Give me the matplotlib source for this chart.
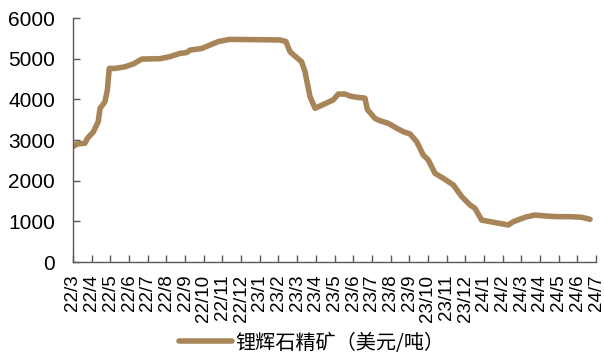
import matplotlib
matplotlib.use("Agg")
import matplotlib.pyplot as plt

months = ["22/3", "22/4", "22/5", "22/6", "22/7", "22/8", "22/9", "22/10", "22/11", "22/12",
          "23/1", "23/2", "23/3", "23/4", "23/5", "23/6", "23/7", "23/8", "23/9", "23/10",
          "23/11", "23/12", "24/1", "24/2", "24/3", "24/4", "24/5", "24/6", "24/7"]

# time position in months since 22/3
t = [0.0, 0.2, 0.64, 0.77, 1.09, 1.35, 1.45, 1.71, 1.84, 1.94, 2.25, 2.78, 3.23, 3.68,
     4.66, 5.19, 5.73, 6.09, 6.26, 6.89, 7.33, 7.78, 8.4, 11.08, 11.4, 11.62, 11.88,
     12.24, 12.42, 12.69, 12.96, 13.93, 14.2, 14.56, 14.83, 15.19, 15.63, 15.76, 16.17,
     16.43, 16.88, 17.33, 17.68, 18.04, 18.4, 18.75, 19.02, 19.38, 19.82, 20.36, 20.81,
     21.25, 21.52, 21.88, 23.3, 23.57, 24.2, 24.73, 25.36, 25.89, 26.61, 27.23, 27.68]
price = [2835, 2900, 2920, 3040, 3200, 3450, 3780, 3940, 4230, 4760, 4760, 4800, 4870, 4990,
         5000, 5050, 5130, 5150, 5210, 5250, 5335, 5420, 5475, 5460, 5420, 5170, 5065,
         4925, 4680, 4065, 3780, 3985, 4130, 4130, 4080, 4050, 4030, 3750, 3530,
         3475, 3410, 3290, 3205, 3150, 2960, 2630, 2510, 2180, 2060, 1895, 1610,
         1405, 1320, 1030, 910, 990, 1100, 1155, 1130, 1115, 1115, 1100, 1050]

series_name = "锂辉石精矿（美元/吨）"
yticks = [0, 1000, 2000, 3000, 4000, 5000, 6000]

plt.rcParams['font.family'] = ['Liberation Sans', 'Noto Sans CJK SC', 'DejaVu Sans']

fig = plt.figure(figsize=(6.04, 3.55), dpi=100)
ax = fig.add_axes([73/604, 1 - 262/355, (596-73)/604, (262-18)/355])

color = "#A88558"
ax.plot(t, price, color=color, lw=4.0, solid_capstyle='round', solid_joinstyle='round',
        label=series_name)

ax.set_xlim(0, len(months) - 1)
ax.set_ylim(0, 6000)
ax.set_xticks(range(len(months)))
ax.set_xticklabels(months, rotation=90, fontsize=13.5, va='top', ha='center')
ax.set_yticks(yticks)
ax.set_yticklabels([str(v) for v in yticks], fontsize=15)

for s in ['top', 'right']:
    ax.spines[s].set_visible(False)
for s in ['left', 'bottom']:
    ax.spines[s].set_color('#595959')
    ax.spines[s].set_linewidth(1.0)
ax.tick_params(axis='both', direction='in', length=5, color='#595959', width=1.0)
ax.tick_params(axis='x', pad=9)
ax.tick_params(axis='y', pad=13)

leg = fig.legend(loc='center', bbox_to_anchor=(312/604, 1 - 343/355), frameon=False,
                 handlelength=2.6, handletextpad=0.2, borderpad=0.0,
                 prop={'family': ['Noto Sans CJK SC', 'DejaVu Sans'], 'size': 14.5})

fig.savefig("out.png", dpi=100)
